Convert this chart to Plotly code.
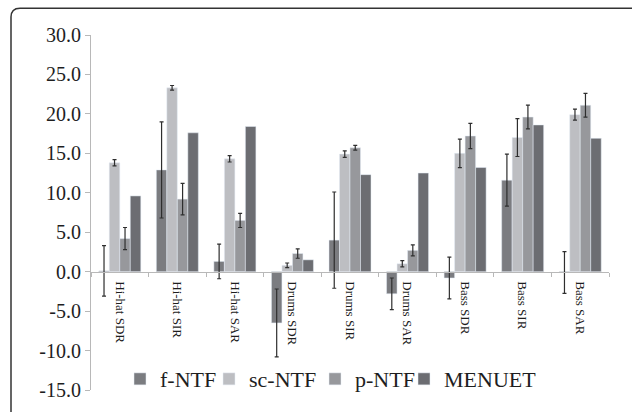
import plotly.graph_objects as go

# Separation metrics per source, in dB
categories = ["Hi-hat SDR", "Hi-hat SIR", "Hi-hat SAR",
              "Drums SDR", "Drums SIR", "Drums SAR",
              "Bass SDR", "Bass SIR", "Bass SAR"]

f_ntf = [0.1, 12.9, 1.3, -6.5, 4.0, -2.8, -0.8, 11.6, -0.1]
f_ntf_err = [3.2, 6.1, 2.2, 4.3, 6.1, 2.0, 2.65, 3.3, 2.65]

sc_ntf = [13.8, 23.3, 14.3, 0.8, 14.9, 1.0, 15.0, 17.0, 19.9]
sc_ntf_err = [0.4, 0.3, 0.4, 0.3, 0.4, 0.4, 1.8, 2.4, 0.7]

p_ntf = [4.2, 9.2, 6.5, 2.3, 15.7, 2.7, 17.2, 19.6, 21.1]
p_ntf_err = [1.4, 2.0, 0.9, 0.6, 0.3, 0.7, 1.6, 1.5, 1.5]

menuet = [9.6, 17.6, 18.4, 1.5, 12.3, 12.5, 13.2, 18.6, 16.9]

y_ticks = [-15, -10, -5, 0, 5, 10, 15, 20, 25, 30]
y_tick_text = ["-15.0", "-10.0", "-5.0", "0.0", "5.0", "10.0",
               "15.0", "20.0", "25.0", "30.0"]

SERIF = "Liberation Serif, Times New Roman, serif"
ERR_COLOR = "#2e2e2e"
TEXT_COLOR = "#1e1e1e"

# plot-area geometry in pixels
W, H = 632, 412
L, R, T, B = 91, 23, 35, 20
pw, ph = W - L - R, H - T - B


def px_x(x):
    return (x - L) / pw


def px_y(y):
    return (H - B - y) / ph


def err(vals):
    return dict(type="data", array=vals, visible=True,
                color=ERR_COLOR, thickness=1.2, width=2)


series = [
    ("f-NTF", f_ntf, f_ntf_err, "#7b7c80", "legend", 160),
    ("sc-NTF", sc_ntf, sc_ntf_err, "#bdbec2", "legend2", 249),
    ("p-NTF", p_ntf, p_ntf_err, "#97989c", "legend3", 355),
    ("MENUET", menuet, None, "#6c6d72", "legend4", 444),
]

fig = go.Figure()
legends = {}
for name, vals, errs, color, leg, text_x in series:
    fig.add_trace(go.Bar(
        name=name, x=categories, y=vals, marker_color=color,
        error_y=err(errs) if errs else None, legend=leg,
    ))
    # one legend box per series so the entries sit in a compact row
    legends[leg] = dict(
        orientation="h", x=px_x(text_x - 40), xanchor="left",
        y=px_y(381), yanchor="middle",
        font=dict(family=SERIF, size=22, color=TEXT_COLOR),
        bgcolor="rgba(0,0,0,0)", borderwidth=0, itemclick=False,
    )

x0, y0 = px_x(11), px_y(8)
rx, ry = 9 / pw, 9 / ph
frame_path = (f"M{x0},{px_y(420)} L{x0},{y0 - ry} "
              f"Q{x0},{y0} {x0 + rx},{y0} L{px_x(645)},{y0}")

fig.update_layout(
    width=W, height=H,
    margin=dict(l=L, r=R, t=T, b=B),
    paper_bgcolor="white", plot_bgcolor="white",
    barmode="group", bargap=0.27, bargroupgap=0,
    font=dict(family=SERIF, color=TEXT_COLOR),
    showlegend=True,
    xaxis=dict(
        anchor="free", position=1 / 3,
        showline=True, linecolor="#b8b8b8", linewidth=1,
        ticks="outside", tickson="boundaries", ticklen=4,
        tickcolor="#b8b8b8", tickangle=90, ticklabelstandoff=6,
        tickfont=dict(family=SERIF, size=13, color=TEXT_COLOR),
        showgrid=False, zeroline=False,
    ),
    yaxis=dict(
        range=[-15, 30], tickvals=y_ticks, ticktext=y_tick_text,
        showline=True, linecolor="#b8b8b8", linewidth=1,
        ticks="outside", ticklen=5, tickcolor="#b8b8b8",
        tickfont=dict(family=SERIF, size=20, color=TEXT_COLOR),
        showgrid=False, zeroline=False,
    ),
    shapes=[dict(type="path", xref="paper", yref="paper",
                 path=frame_path, line=dict(color="#333333", width=1.5))],
    **legends,
)

fig.write_html("out.html")
